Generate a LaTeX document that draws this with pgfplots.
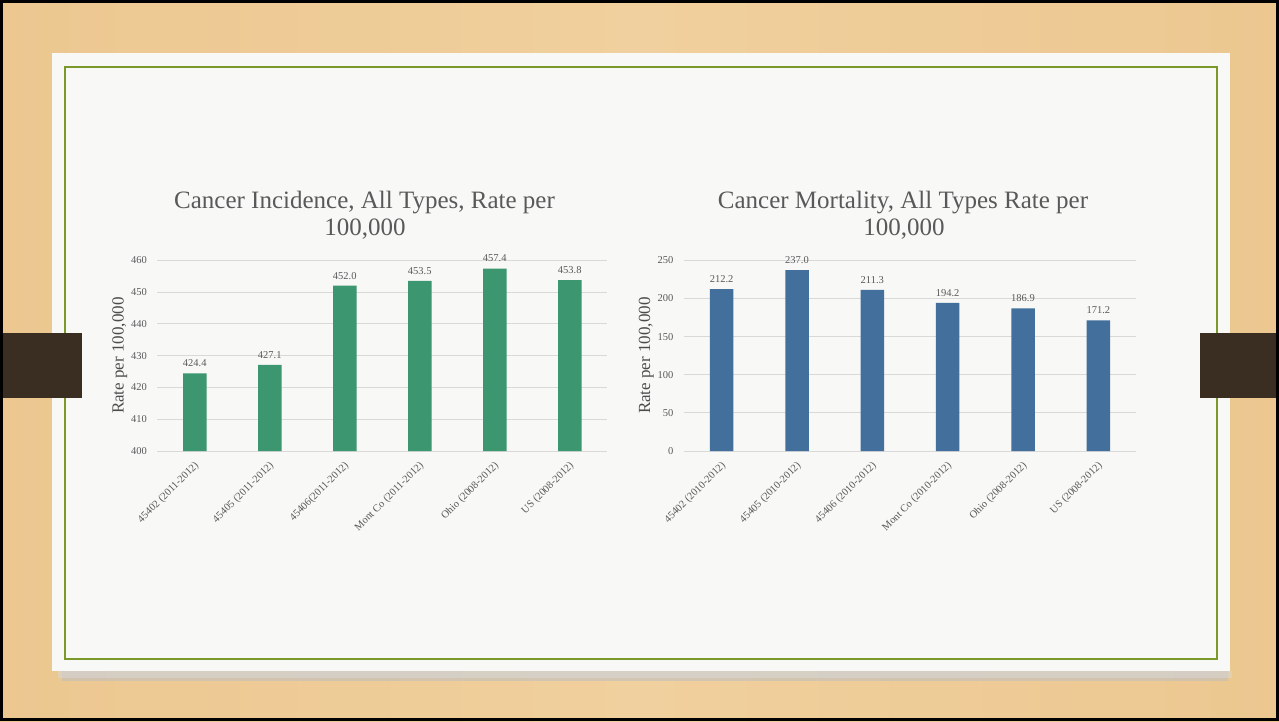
\documentclass[border=0pt]{standalone}
\usepackage{fontspec}
\setmainfont{Liberation Serif}
\usepackage{pgfplots}
\pgfplotsset{compat=1.18}
\definecolor{wood}{RGB}{236,199,144}
\definecolor{woodlight}{RGB}{240,208,158}
\definecolor{paper}{RGB}{248,248,247}
\definecolor{frame}{RGB}{125,152,42}
\definecolor{strap}{RGB}{58,46,35}
\definecolor{barg}{RGB}{60,150,111}
\definecolor{barb}{RGB}{66,111,156}
\definecolor{txt}{RGB}{89,89,89}
\definecolor{gridc}{RGB}{217,217,217}
\pgfplotsset{mybar/.style={
  scale only axis, height=190.7pt, anchor=south west,
  xmin=-0.5, xmax=5.5, xtick={0,...,5},
  axis line style={draw=none}, major tick length=0pt,
  ymajorgrids, grid style={gridc, line width=0.8pt},
  tick label style={font=\fontsize{10.5}{12}\selectfont, text=txt},
  /pgf/number format/assume math mode=true,
  yticklabel style={xshift=-7pt},
  xticklabel style={yshift=-8pt, xshift=-1pt, rotate=45, anchor=north east, inner sep=1pt, font=\fontsize{10.5}{12}\selectfont},
  ylabel style={font=\fontsize{17}{20}\selectfont, text=txt!85!black, yshift=-3pt},
  ylabel={Rate per 100,000},
  ybar, bar width=23.5pt,
  nodes near coords,
  every node near coord/.append style={font=\fontsize{10.5}{12}\selectfont, text=txt, yshift=3pt},
  nodes near coords={\pgfmathprintnumber[fixed,fixed zerofill,precision=1,assume math mode=true]{\pgfplotspointmeta}},
}}
\begin{document}
\begin{tikzpicture}[x=1pt,y=1pt]
% background
\shade[left color=wood, right color=wood, middle color=woodlight] (0,0) rectangle (1279,721);
\fill[black!25, opacity=0.6] (62,40) rectangle (1228,50);
\fill[black!15, opacity=0.5] (58,43) rectangle (1232,50);
\fill[paper] (52,50) rectangle (1230,668);
\draw[frame, line width=1.6pt] (65,62) rectangle (1217,654);
\fill[strap] (0,323) rectangle (82,388);
\fill[strap] (1200,323) rectangle (1279,388);
\draw[black, line width=3pt] (1.5,1.5) rectangle (1277.5,719.5);
% titles
\node[text=txt, font=\fontsize{25}{28}\selectfont, anchor=base] at (364.5,512) {Cancer Incidence, All Types, Rate per};
\node[text=txt, font=\fontsize{25}{28}\selectfont, anchor=base] at (365,485) {100,000};
\node[text=txt, font=\fontsize{25}{28}\selectfont, anchor=base] at (903,512) {Cancer Mortality, All Types Rate per};
\node[text=txt, font=\fontsize{25}{28}\selectfont, anchor=base] at (904,485) {100,000};
\begin{axis}[mybar, at={(157.3pt,270pt)}, width=450pt,
  ymin=400, ymax=460, ytick={400,410,...,460},
  xticklabels={45402 (2011-2012),45405 (2011-2012),45406(2011-2012),Mont Co (2011-2012),Ohio (2008-2012),US (2008-2012)}]
\addplot[fill=barg, draw=none] coordinates {(0,424.4) (1,427.1) (2,452.0) (3,453.5) (4,457.4) (5,453.8)};
\end{axis}
\begin{axis}[mybar, at={(684pt,270pt)}, width=452pt,
  ymin=0, ymax=250, ytick={0,50,...,250},
  xticklabels={45402 (2010-2012),45405 (2010-2012),45406 (2010-2012),Mont Co (2010-2012),Ohio (2008-2012),US (2008-2012)}]
\addplot[fill=barb, draw=none] coordinates {(0,212.2) (1,237.0) (2,211.3) (3,194.2) (4,186.9) (5,171.2)};
\end{axis}
\end{tikzpicture}
\end{document}
